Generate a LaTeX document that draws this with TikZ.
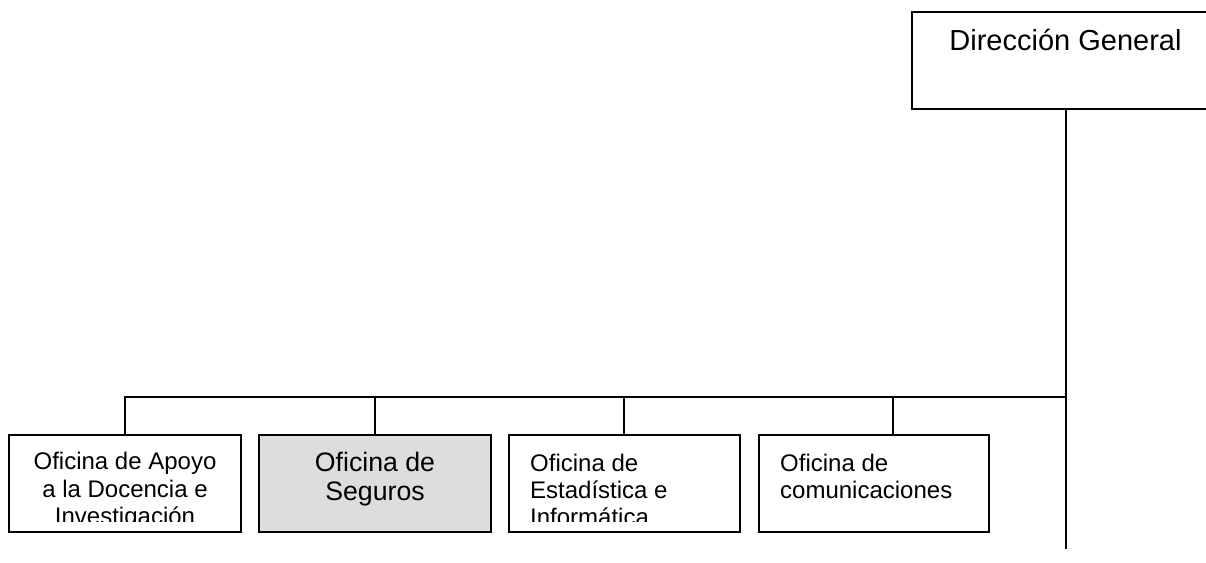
\documentclass[tikz,border=0pt]{standalone}
\usepackage{fontspec}
\setmainfont{Liberation Sans}
\begin{document}
\begin{tikzpicture}[x=1pt,y=-1pt,
  box/.style={draw=black,line width=1.3pt,rectangle,inner sep=0pt,minimum width=#1,minimum height=97pt},
  ln/.style={line width=1.3pt,draw=black},
  t24/.style={inner sep=0pt,anchor=base,font=\fontsize{24}{27}\selectfont},
  t24l/.style={inner sep=0pt,anchor=base west,font=\fontsize{24}{27}\selectfont},
  t27/.style={inner sep=0pt,anchor=base,font=\fontsize{26.7}{30}\selectfont},
  t29/.style={inner sep=0pt,anchor=base,font=\fontsize{29}{33}\selectfont}]
\useasboundingbox (0,0) rectangle (1206,562);
\clip (0,0) rectangle (1206,562);
% top box
\node[box=303pt,minimum height=97pt] (dg) at (1063.5,60.5) {};
\node[t29] (dgt) at (1065.5,50) {Dirección General};
% lower boxes
\node[box=232pt] (b1) at (125,483.5) {};
\node[box=232pt,fill={rgb,255:red,221;green,221;blue,221}] (b2) at (375,483.5) {};
\node[box=231pt] (b3) at (624.5,483.5) {};
\node[box=230pt] (b4) at (874,483.5) {};
\coordinate (b3top) at (624,435);
\coordinate (b4top) at (893,435);
\coordinate (bus) at (1066,397);
\coordinate (dgb) at (1066,109);
\coordinate (endv) at (1066,549);
% connectors
\draw[ln] (dgb) -- (endv);
\draw[ln] (b1.north) |- (bus);
\draw[ln] (b2.north) -- (b2.north |- bus);
\draw[ln] (b3top) -- (b3top |- bus);
\draw[ln] (b4top) -- (b4top |- bus);
% texts
\node[t24] (b1a) at (125,469) {Oficina de Apoyo};
\node[t24] (b1b) at (125,497) {a la Docencia e};
\node[t27] (b2a) at (375,471) {Oficina de};
\node[t27] (b2b) at (375,500) {Seguros};
\node[t24l] (b3a) at (530,471) {Oficina de};
\node[t24l] (b3b) at (530,498) {Estadística e};
\node[t24l] (b4a) at (780,471) {Oficina de};
\node[t24l] (b4b) at (780,498) {comunicaciones};
\begin{scope}
\clip (0,440) rectangle (1206,521);
\node[t24] (b1c) at (125,524.5) {Investigación};
\node[t24l] (b3c) at (530,525.5) {Informática};
\end{scope}
\end{tikzpicture}
\end{document}
